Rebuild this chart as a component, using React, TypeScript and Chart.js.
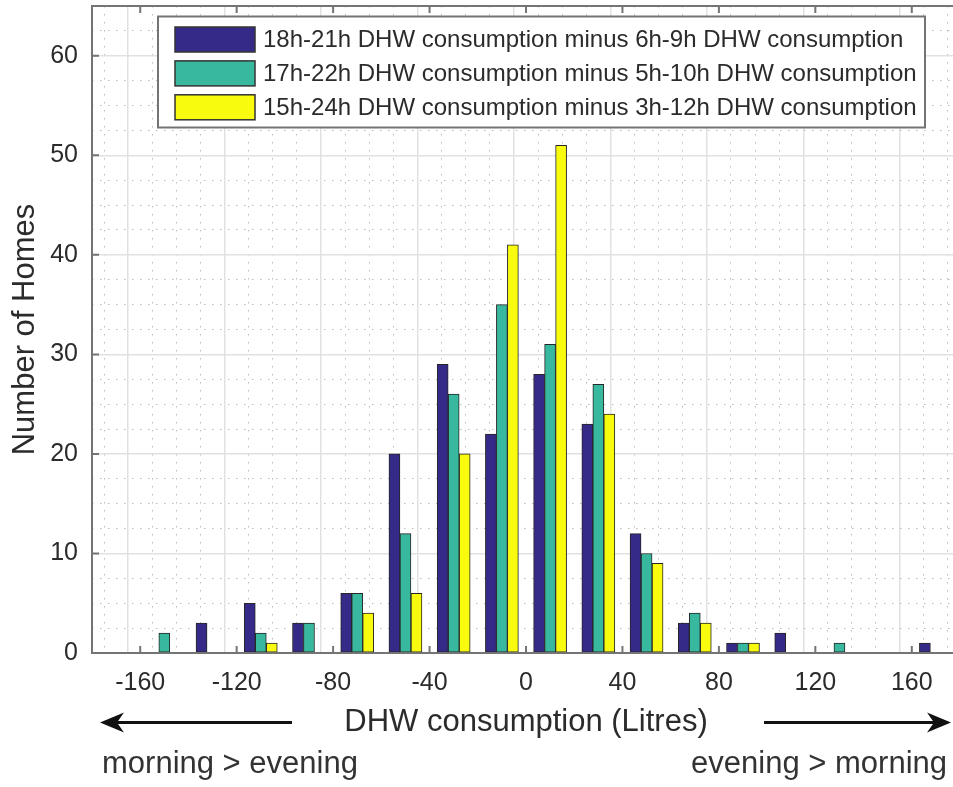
import React, { useEffect, useRef } from "react";
import { Chart, registerables } from "chart.js";

Chart.register(...registerables);

// ---------- data ----------
const binCenters = [-150, -130, -110, -90, -70, -50, -30, -10, 10, 30, 50, 70, 90, 110, 130, 150, 170];
const seriesLabels = [
  "18h-21h DHW consumption minus 6h-9h DHW consumption",
  "17h-22h DHW consumption minus 5h-10h DHW consumption",
  "15h-24h DHW consumption minus 3h-12h DHW consumption",
];
const homes18to21 = [0, 3, 5, 3, 6, 20, 29, 22, 28, 23, 12, 3, 1, 2, 0, 0, 1];
const homes17to22 = [2, 0, 2, 3, 6, 12, 26, 35, 31, 27, 10, 4, 1, 0, 1, 0, 0];
const homes15to24 = [0, 0, 1, 0, 4, 6, 20, 41, 51, 24, 9, 3, 1, 0, 0, 0, 0];
const xTickLabels = [-160, -120, -80, -40, 0, 40, 80, 120, 160];
const yTickLabels = [0, 10, 20, 30, 40, 50, 60];
const xAxisTitle = "DHW consumption (Litres)";
const yAxisTitle = "Number of Homes";
const leftNote = "morning > evening";
const rightNote = "evening > morning";

// ---------- styles ----------
const FONT = '"Liberation Sans", Arial, Helvetica, sans-serif';
const COLORS = ["#352A87", "#38B89E", "#F9FB0E"];
const TEXT = "#2b2b2b";
const AXIS = "#747474";
const MAJOR_GRID = "#e1e1e1";
const MINOR_GRID = "rgba(150,150,150,0.65)";

const toPoints = (vals: number[]) =>
  binCenters.map((x, i) => ({ x, y: vals[i] === 0 ? null : vals[i] }));

const framePlugin = {
  id: "matlabFrame",
  afterDatasetsDraw(chart: any) {
    const { ctx, chartArea } = chart;
    const { left, right, top, bottom } = chartArea;
    ctx.save();
    ctx.strokeStyle = AXIS;
    ctx.lineWidth = 2;
    ctx.strokeRect(left, top, right - left, bottom - top);
    const tl = 7;
    ctx.beginPath();
    xTickLabels.forEach((v) => {
      const px = chart.scales.x.getPixelForValue(v);
      ctx.moveTo(px, bottom);
      ctx.lineTo(px, bottom - tl);
      ctx.moveTo(px, top);
      ctx.lineTo(px, top + tl);
    });
    yTickLabels.forEach((v) => {
      const py = chart.scales.y.getPixelForValue(v);
      ctx.moveTo(left, py);
      ctx.lineTo(left + tl, py);
      ctx.moveTo(right, py);
      ctx.lineTo(right - tl, py);
    });
    ctx.stroke();
    ctx.restore();
  },
};

function drawArrow(ctx: CanvasRenderingContext2D, x1: number, x2: number, y: number) {
  const dir = x2 > x1 ? 1 : -1;
  ctx.beginPath();
  ctx.moveTo(x1, y);
  ctx.lineTo(x2 - dir * 12, y);
  ctx.stroke();
  ctx.beginPath();
  ctx.moveTo(x2, y);
  ctx.lineTo(x2 - dir * 24, y - 10);
  ctx.lineTo(x2 - dir * 17, y);
  ctx.lineTo(x2 - dir * 24, y + 10);
  ctx.closePath();
  ctx.fill();
}

const annotationPlugin = {
  id: "legendAndNotes",
  afterDraw(chart: any) {
    const { ctx } = chart;
    ctx.save();
    // legend box
    const bx = 158, by = 16.5, bw = 767, bh = 111;
    ctx.fillStyle = "#ffffff";
    ctx.fillRect(bx, by, bw, bh);
    ctx.strokeStyle = AXIS;
    ctx.lineWidth = 2;
    ctx.strokeRect(bx, by, bw, bh);
    chart.data.datasets.forEach((ds: any, i: number) => {
      const cy = 39.5 + i * 33.9;
      ctx.fillStyle = ds.backgroundColor;
      ctx.fillRect(175, cy - 12.5, 80, 25);
      ctx.strokeStyle = "#333333";
      ctx.lineWidth = 1.5;
      ctx.strokeRect(175, cy - 12.5, 80, 25);
      ctx.fillStyle = TEXT;
      ctx.font = `24px ${FONT}`;
      ctx.textAlign = "left";
      ctx.textBaseline = "middle";
      ctx.fillText(ds.label, 263, cy + 1);
    });
    // arrows
    ctx.strokeStyle = "#111111";
    ctx.fillStyle = "#111111";
    ctx.lineWidth = 3;
    drawArrow(ctx, 292, 100, 722.5);
    drawArrow(ctx, 764, 951, 722.5);
    // notes
    ctx.fillStyle = "#333333";
    ctx.font = `31px ${FONT}`;
    ctx.textBaseline = "alphabetic";
    ctx.textAlign = "left";
    ctx.fillText(leftNote, 102, 773);
    ctx.textAlign = "right";
    ctx.fillText(rightNote, 947, 773);
    ctx.restore();
  },
};

export default function App() {
  const canvasRef = useRef<HTMLCanvasElement | null>(null);

  useEffect(() => {
    if (!canvasRef.current) return;
    const allSeries = [homes18to21, homes17to22, homes15to24];
    const chart = new Chart(canvasRef.current, {
      type: "bar",
      data: {
        datasets: allSeries.map((vals, i) => ({
          label: seriesLabels[i],
          data: toPoints(vals) as any,
          backgroundColor: COLORS[i],
          borderColor: "#262626",
          borderWidth: 1,
          borderSkipped: false,
          barThickness: 11,
        })),
      },
      options: {
        animation: false,
        responsive: false,
        devicePixelRatio: 1,
        layout: { padding: { top: 6, right: 15, bottom: 0, left: 0 } },
        plugins: {
          legend: { display: false },
          tooltip: { enabled: false },
        },
        scales: {
          x: {
            type: "linear",
            min: -180,
            max: 180,
            offset: false,
            afterFit: (s: any) => {
              s.height = 134;
              s.paddingLeft = 0;
              s.paddingRight = 0;
            },
            ticks: {
              stepSize: 10,
              autoSkip: false,
              maxRotation: 0,
              padding: 15,
              color: TEXT,
              font: { family: FONT, size: 25 },
              callback: (v: any) => (xTickLabels.includes(Number(v)) ? String(v) : ""),
            },
            grid: {
              drawTicks: false,
              color: (c: any) => (c.tick && c.tick.value % 40 === 0 ? MAJOR_GRID : MINOR_GRID),
              lineWidth: (c: any) => (c.tick && c.tick.value % 40 === 0 ? 1.5 : 1),
            },
            border: {
              display: false,
              dash: (c: any) => (c.tick && c.tick.value % 40 === 0 ? [] : [1.5, 6.5]),
            },
            title: {
              display: true,
              text: xAxisTitle,
              color: TEXT,
              font: { family: FONT, size: 31 },
              padding: { top: 0, bottom: 46 },
            },
          },
          y: {
            type: "linear",
            min: 0,
            max: 65,
            afterFit: (s: any) => {
              s.width = 92;
              s.paddingTop = 0;
              s.paddingBottom = 0;
            },
            ticks: {
              stepSize: 2.5,
              autoSkip: false,
              padding: 14,
              color: TEXT,
              font: { family: FONT, size: 25 },
              callback: (v: any) => (yTickLabels.includes(Number(v)) ? String(v) : ""),
            },
            grid: {
              drawTicks: false,
              color: (c: any) => (c.tick && c.tick.value % 10 === 0 ? MAJOR_GRID : MINOR_GRID),
              lineWidth: (c: any) => (c.tick && c.tick.value % 10 === 0 ? 1.5 : 1),
            },
            border: {
              display: false,
              dash: (c: any) => (c.tick && c.tick.value % 10 === 0 ? [] : [1.5, 6.5]),
            },
            title: {
              display: true,
              text: yAxisTitle,
              color: TEXT,
              font: { family: FONT, size: 31 },
              padding: { top: 7, bottom: 0 },
            },
          },
        },
      },
      plugins: [framePlugin, annotationPlugin],
    });
    return () => chart.destroy();
  }, []);

  return (
    <div
      style={{
        position: "fixed",
        left: 0,
        top: 0,
        width: 953,
        height: 787,
        overflow: "hidden",
        background: "#ffffff",
      }}
    >
      <canvas
        ref={canvasRef}
        width={975}
        height={787}
        style={{ display: "block", width: 975, height: 787 }}
      />
    </div>
  );
}
